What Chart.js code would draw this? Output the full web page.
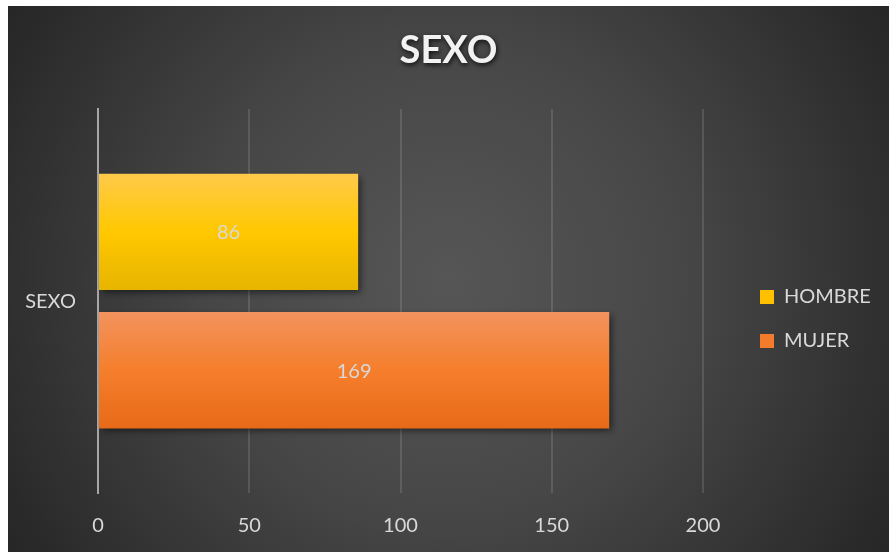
<!DOCTYPE html>
<html><head><meta charset="utf-8">
<script src="https://cdn.jsdelivr.net/npm/chart.js@4/dist/chart.umd.min.js"></script>
<style>
html,body{margin:0;padding:0;background:#fff;width:889px;height:552px;overflow:hidden;}
#c{position:absolute;left:8px;top:6px;}
</style></head><body>
<canvas id="c" width="881" height="546"></canvas>
<script>
const categories = ['SEXO'];
const seriesNames = ['HOMBRE', 'MUJER'];
const hombreValues = [86];
const mujerValues = [169];
const tickValues = [0, 50, 100, 150, 200];

const gradStops = [
  ['#ffca4a', '#ffc800', '#e7b400'],
  ['#f3935e', '#f57e2c', '#e86a18']
];

const fx = {
  id: 'fx',
  afterInit(chart) {
    const lg = chart.legend;
    const of = lg.fit;
    lg.fit = function () { of.apply(this, arguments); if (!this.isHorizontal()) this.width = 186; };
    const tb = chart.titleBlock;
    const od = tb.draw;
    tb.draw = function () {
      const c = this.ctx; c.save();
      c.shadowColor = 'rgba(0,0,0,0.8)'; c.shadowBlur = 5; c.shadowOffsetX = 1; c.shadowOffsetY = 2;
      od.apply(this, arguments); c.restore();
    };
  },
  afterLayout(chart) {
    const lg = chart.legend;
    lg.left += 33; lg.right += 33;
    lg.top += 40; lg.bottom += 40;
  },
  beforeDraw(chart) {
    const c = chart.ctx, w = chart.width, h = chart.height;
    c.save();
    const g = c.createRadialGradient(w * 0.5, h * 0.5, 0, w * 0.5, h * 0.5, Math.hypot(w, h) * 0.5);
    g.addColorStop(0, '#565656');
    g.addColorStop(0.45, '#474747');
    g.addColorStop(1, '#262626');
    c.fillStyle = g;
    c.fillRect(0, 0, w, h);
    c.restore();
  },
  beforeDatasetsDraw(chart) {
    const c = chart.ctx;
    chart.data.datasets.forEach((ds, di) => {
      const meta = chart.getDatasetMeta(di);
      meta.data.forEach(el => {
        const top = el.y - el.height / 2, bot = el.y + el.height / 2;
        const g = c.createLinearGradient(0, top, 0, bot);
        const s = gradStops[di];
        g.addColorStop(0, s[0]); g.addColorStop(0.5, s[1]); g.addColorStop(1, s[2]);
        el.options = Object.assign({}, el.options, { backgroundColor: g });
      });
    });
    c.save();
    c.shadowColor = 'rgba(0,0,0,0.55)'; c.shadowBlur = 7; c.shadowOffsetX = 3; c.shadowOffsetY = 3;
  },
  afterDatasetsDraw(chart) {
    const c = chart.ctx;
    c.restore();
    c.save();
    c.fillStyle = '#d9d9d9';
    c.font = '20px Lato';
    c.textAlign = 'center'; c.textBaseline = 'middle';
    chart.data.datasets.forEach((ds, di) => {
      const meta = chart.getDatasetMeta(di);
      meta.data.forEach((el, i) => {
        c.fillText(String(ds.data[i]), (el.x + el.base) / 2, el.y + 1);
      });
    });
    c.restore();
  }
};

Chart.defaults.font.family = 'Lato';

new Chart(document.getElementById('c'), {
  type: 'bar',
  data: {
    labels: categories,
    datasets: [
      { label: seriesNames[0], data: hombreValues, backgroundColor: '#ffc000' },
      { label: seriesNames[1], data: mujerValues, backgroundColor: '#f47b2b' }
    ]
  },
  options: {
    indexAxis: 'y',
    responsive: false,
    animation: false,
    categoryPercentage: 0.721,
    barPercentage: 0.841,
    layout: { padding: 0 },
    plugins: {
      title: {
        display: true, text: 'SEXO', color: '#f2f2f2',
        font: { family: 'Lato', size: 38, weight: 'bold' },
        padding: { top: 22, bottom: 35.5 }
      },
      legend: {
        position: 'right',
        labels: { color: '#d9d9d9', font: { family: 'Lato', size: 20 }, boxWidth: 14, boxHeight: 14, padding: 24 }
      },
      tooltip: { enabled: false }
    },
    scales: {
      x: {
        min: 0, max: 200,
        afterBuildTicks(s) { s.ticks = tickValues.map(v => ({ value: v })); },
        ticks: { color: '#d9d9d9', font: { family: 'Lato', size: 20 }, padding: 21 },
        grid: { color: 'rgba(255,255,255,0.12)', lineWidth: 2, drawTicks: false },
        border: { display: false },
        afterFit(s) { s.height = 59; }
      },
      y: {
        ticks: { color: '#d9d9d9', font: { family: 'Lato', size: 20 }, padding: 22 },
        grid: { display: false, drawTicks: false },
        border: { display: true, color: '#a6a6a6', width: 2 },
        afterFit(s) { s.width = 90; }
      }
    }
  },
  plugins: [fx]
});
</script>
</body></html>
